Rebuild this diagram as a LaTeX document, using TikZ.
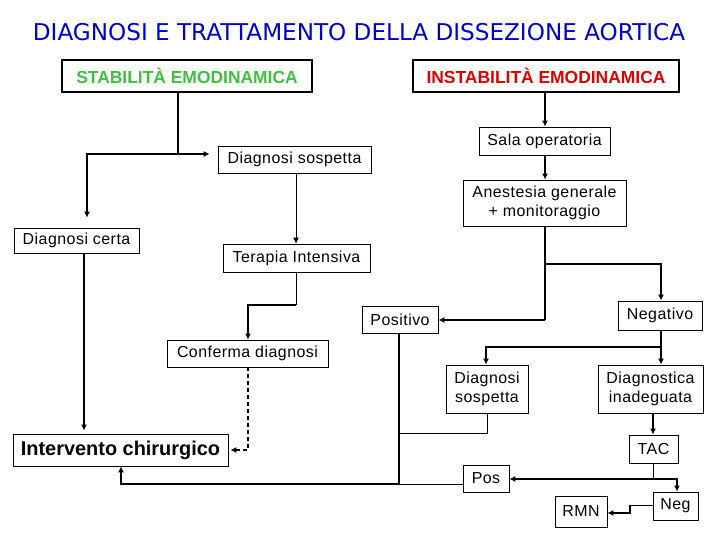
\documentclass[tikz,border=0pt]{standalone}
\usepackage{fontspec}
\setmainfont{Liberation Sans}
\newfontfamily\boxfont[LetterSpace=3]{Liberation Sans}
\newfontfamily\titolofont{DejaVu Sans}
\usetikzlibrary{arrows.meta}
\definecolor{blutitolo}{RGB}{0,0,204}
\definecolor{verdestab}{RGB}{64,192,64}
\definecolor{rossoinst}{RGB}{222,0,0}

\begin{document}
\begin{tikzpicture}[x=1bp,y=-1bp,line width=.8pt,
  box/.style={draw,line width=.8pt,inner sep=0pt,align=center,
    font=\boxfont\fontsize{16}{19}\selectfont},
  boxtop/.style={draw,line width=2.6pt,inner sep=0pt,
    font=\fontsize{17.5}{20}\selectfont\bfseries},
  spesso/.style={line width=2.2pt},
  sottile/.style={line width=.9pt},
  punta/.style={-{Latex[length=6bp,width=6bp]}}]
\useasboundingbox (0,0) rectangle (720,540);
% Titolo
\node[text=blutitolo,font=\titolofont\fontsize{23.2}{26}\selectfont] (titolo) at (359,32)
  {DIAGNOSI E TRATTAMENTO DELLA DISSEZIONE AORTICA};
% Le due condizioni di partenza
\node[boxtop,text=verdestab,minimum width=250bp,minimum height=32bp] (stab) at (187,76)
  {STABILITÀ EMODINAMICA};
\node[boxtop,text=rossoinst,minimum width=266bp,minimum height=32bp] (instab) at (546,76)
  {INSTABILITÀ EMODINAMICA};
% Ramo stabile
\node[box,minimum width=153bp,minimum height=27bp] (dsosp) at (294.5,159.5) {Diagnosi sospetta};
\node[box,minimum width=125bp,minimum height=25bp] (dcerta) at (76.5,240.5) {Diagnosi certa};
\node[box,minimum width=147bp,minimum height=28bp] (terapia) at (296.5,258) {Terapia Intensiva};
\node[box,minimum width=161bp,minimum height=27bp] (conferma) at (247.5,353.5) {Conferma diagnosi};
\node[draw,line width=.8pt,inner sep=0pt,font=\fontsize{20}{24}\selectfont\bfseries,
  minimum width=215bp,minimum height=32bp] (intervento) at (120.5,450) {Intervento chirurgico};
% Ramo instabile
\node[box,minimum width=131bp,minimum height=28bp] (sala) at (544.5,141) {Sala operatoria};
\node[box,minimum width=163bp,minimum height=46bp] (anest) at (544.5,203)
  {Anestesia generale\\ + monitoraggio};
\node[box,minimum width=76bp,minimum height=27bp] (positivo) at (400,319.5) {Positivo};
\node[box,minimum width=84bp,minimum height=29bp] (negativo) at (660,315.5) {Negativo};
\node[box,minimum width=82bp,minimum height=48bp] (dsosp2) at (487,389) {Diagnosi\\ sospetta};
\node[box,minimum width=105bp,minimum height=48bp] (dinad) at (650.5,389)
  {Diagnostica\\ inadeguata};
\node[box,minimum width=49bp,minimum height=28bp] (tac) at (653.5,449) {TAC};
\node[box,minimum width=46bp,minimum height=27bp] (pos) at (486,478.5) {Pos};
\node[box,minimum width=45bp,minimum height=28bp] (neg) at (675.5,506) {Neg};
\node[box,minimum width=52bp,minimum height=31bp] (rmn) at (581,511.5) {RMN};
% Punti d'angolo dei collegamenti
\coordinate (j1) at (178,154);
\coordinate (j2) at (87,154);
\coordinate (xa) at (84,0);
\coordinate (t1) at (296,305);
\coordinate (t2) at (248,305);
\coordinate (c1) at (248,450);
\coordinate (a1) at (545,264);
\coordinate (a2) at (661,264);
\coordinate (a3) at (545,320);
\coordinate (p1) at (399,484);
\coordinate (p2) at (121,484);
\coordinate (n1) at (661,347);
\coordinate (n2) at (486,347);
\coordinate (d1) at (487,433);
\coordinate (d2) at (399,433);
\coordinate (k1) at (653,479);
\coordinate (k2) at (677,479);
\coordinate (g1) at (630,505);
\coordinate (g2) at (630,513);
% Collegamenti del ramo stabile
\draw[spesso] (stab.south -| j1) -- (j1);
\draw[spesso,punta,shorten >=8bp] (j1) -- (j1 -| dsosp.west);
\draw[spesso,punta,shorten >=10bp] (j1) -- (j2) -- (j2 |- dcerta.north);
\draw[spesso,punta,shorten >=3bp] (dcerta.south -| xa) -- (intervento.north -| xa);
\draw[sottile,punta] (dsosp.south -| t1) -- (terapia.north -| t1);
\draw[sottile] (terapia.south -| t1) -- (t1);
\draw[spesso,punta] (t1) -- (t2) -- (conferma.north -| t2);
\draw[line width=1.2pt,dash pattern=on 4bp off 3bp,punta,shorten >=2bp]
  (conferma.south -| c1) -- (c1) -- (intervento.east |- c1);
% Collegamenti del ramo instabile
\draw[spesso,punta] (instab.south -| a3) -- (sala.north -| a3);
\draw[spesso,punta] (sala.south -| a3) -- (anest.north -| a3);
\draw[spesso] (anest.south -| a3) -- (a3);
\draw[spesso,punta] (a3) -- (positivo.east |- a3);
\draw[spesso,punta] (a1) -- (a2) -- (negativo.north -| a2);
\draw[spesso,punta] (positivo.south -| p1) -- (p1) -- (p2) -- (intervento.south -| p2);
\draw[spesso,punta] (negativo.south -| n1) -- (n1) -- (dinad.north -| n1);
\draw[spesso,punta] (n1) -- (n2) -- (dsosp2.north -| n2);
\draw[sottile] (dsosp2.south) -- (d1) -- (d2);
\draw[spesso,punta] (dinad.south -| k1) -- (tac.north -| k1);
\draw[sottile] (tac.south -| k1) -- (k1);
\draw[spesso,punta] (k1) -- (pos.east |- k1);
\draw[spesso,punta] (k1) -- (k2) -- (neg.north -| k2);
\draw[sottile] (pos.west |- p1) -- (p1);
\draw[sottile] (neg.west |- g1) -- (g1);
\draw[spesso,punta] (g1) -- (g2) -- (rmn.east |- g2);
\end{tikzpicture}
\end{document}
